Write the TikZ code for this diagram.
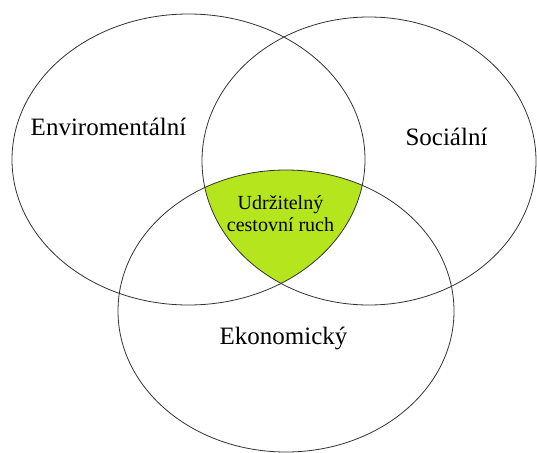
\documentclass[tikz,border=0pt]{standalone}
\usepackage{fontspec}
\setmainfont{Liberation Serif}
\usepackage{tikz}
\usepackage{xcolor}
\definecolor{limegreen}{RGB}{181,230,29}

\begin{document}
\begin{tikzpicture}[x=1pt,y=-1pt,
        ring/.style={draw=black!80, line width=0.8pt},
        biglabel/.style={anchor=base, inner sep=0pt, font=\fontsize{25}{27}\selectfont},
        midlabel/.style={align=center, inner sep=0pt, font=\fontsize{20}{22}\selectfont}]
                \useasboundingbox (0,0) rectangle (537,452);
                % green middle part
                \begin{scope}
                    \clip (188.5,159.5) ellipse [x radius=176.5, y radius=145.5];
                    \clip (369,161) ellipse [x radius=167, y radius=144];
                    \fill[limegreen] (286,311) ellipse [x radius=168, y radius=141];
                \end{scope}
                \draw[ring] (188.5,159.5) ellipse [x radius=176.5, y radius=145.5];
                \draw[ring] (369,161) ellipse [x radius=167, y radius=144];
                \draw[ring] (286,311) ellipse [x radius=168, y radius=141];
                \node[biglabel] (env) at (108.5,135) {Enviromentální};
                \node[biglabel] (soc) at (446.5,145) {Sociální};
                \node[biglabel] (eko) at (283.5,344) {Ekonomický};
                \node[midlabel] (ucr) at (280.5,213.5) {Udržitelný\\cestovní ruch};
            \end{tikzpicture}
\end{document}
